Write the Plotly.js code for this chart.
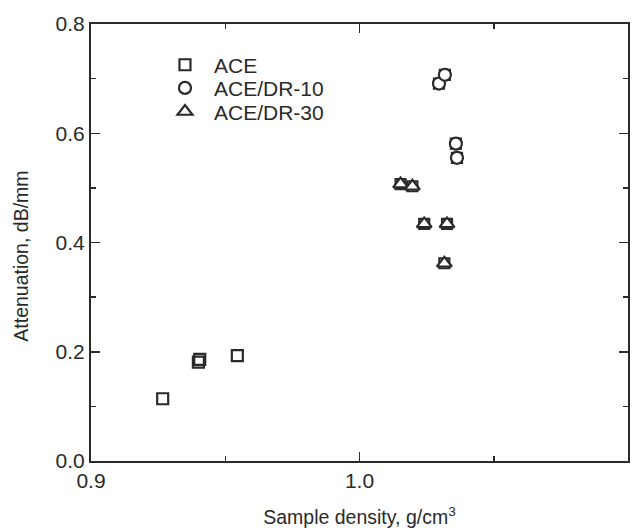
<!DOCTYPE html>
<html>
<head>
<meta charset="utf-8">
<script src="https://cdn.plot.ly/plotly-3.0.1.min.js"></script>
<style>html,body{margin:0;padding:0;background:#fff;}#chart{width:642px;height:528px;}</style>
</head>
<body>
<div id="chart"></div>
<script>
// Data
const aceDensity = [0.9267, 0.9400, 0.9405, 0.9545];
const aceAtten   = [0.114, 0.181, 0.186, 0.193];

const dr10Density = [1.0296, 1.0318, 1.0359, 1.0363];
const dr10Atten   = [0.691, 0.707, 0.581, 0.555];

const dr30Density = [1.0153, 1.0197, 1.0241, 1.0326, 1.0316];
const dr30Atten   = [0.507, 0.503, 0.434, 0.434, 0.362];

const seriesNames = ['ACE', 'ACE/DR-10', 'ACE/DR-30'];
const xTicks = [0.9, 1.0, 1.1];
const yTicks = [0.0, 0.2, 0.4, 0.6, 0.8];
const xTitle = 'Sample density, g/cm<sup>3</sup>';
const yTitle = 'Attenuation, dB/mm';

const ink = '#2a2a2a';
const fam = 'Liberation Sans, Arial, sans-serif';
const F = (s) => ({family: fam, color: ink, size: s});

function mk(symbol, size, fill) {
  return {symbol: symbol, size: size, color: fill || 'rgba(255,255,255,0)', line: {color: ink, width: 2.2}};
}

const traces = [
  // squares drawn under the DR points, as in the reference
  {x: dr10Density, y: dr10Atten, mode: 'markers', type: 'scatter', showlegend: false, hoverinfo: 'skip', marker: mk('square', 10)},
  {x: dr30Density, y: dr30Atten, mode: 'markers', type: 'scatter', showlegend: false, hoverinfo: 'skip', marker: mk('square', 10)},
  {x: aceDensity, y: aceAtten, name: seriesNames[0], legend: 'legend', mode: 'markers', type: 'scatter', marker: mk('square', 11)},
  {x: dr10Density, y: dr10Atten, name: seriesNames[1], legend: 'legend2', mode: 'markers', type: 'scatter', marker: mk('circle', 12, '#fff')},
  {x: dr30Density, y: dr30Atten, name: seriesNames[2], legend: 'legend3', mode: 'markers', type: 'scatter', marker: mk('triangle-up', 13, '#fff')}
];

function leg(y) {
  return {x: 0.121, y: y, xanchor: 'left', yanchor: 'middle', itemwidth: 48,
          bgcolor: 'rgba(0,0,0,0)', borderwidth: 0, font: F(21)};
}

const layout = {
  width: 642, height: 528,
  margin: {l: 91, r: 14, t: 24, b: 67},
  paper_bgcolor: '#fff', plot_bgcolor: '#fff',
  font: F(20),
  showlegend: true,
  legend: leg(0.906),
  legend2: leg(0.853),
  legend3: leg(0.799),
  xaxis: {
    range: [0.9, 1.1],
    tickmode: 'array', tickvals: xTicks, ticktext: xTicks.map(v => v.toFixed(1)),
    ticks: 'inside', ticklen: 9, tickwidth: 1.5, tickcolor: ink,
    minor: {dtick: 0.05, ticks: 'inside', ticklen: 5, tickwidth: 1.5, tickcolor: ink, showgrid: false},
    showline: true, linecolor: ink, linewidth: 2, mirror: 'ticks',
    showgrid: false, zeroline: false,
    tickfont: F(21),
    title: {text: xTitle, font: F(19.5), standoff: 20}
  },
  yaxis: {
    range: [0, 0.8],
    tickmode: 'array', tickvals: yTicks, ticktext: yTicks.map(v => v.toFixed(1)),
    ticks: 'inside', ticklen: 9, tickwidth: 1.5, tickcolor: ink,
    minor: {dtick: 0.1, ticks: 'inside', ticklen: 5, tickwidth: 1.5, tickcolor: ink, showgrid: false},
    showline: true, linecolor: ink, linewidth: 2, mirror: 'ticks',
    showgrid: false, zeroline: false,
    tickfont: F(21)
  },
  annotations: [{
    text: yTitle, textangle: -90, showarrow: false,
    xref: 'paper', yref: 'paper', x: -0.131, y: 0.469,
    xanchor: 'center', yanchor: 'middle', font: F(19.5)
  }]
};

Plotly.newPlot('chart', traces, layout, {displayModeBar: false, staticPlot: true});
</script>
</body>
</html>
